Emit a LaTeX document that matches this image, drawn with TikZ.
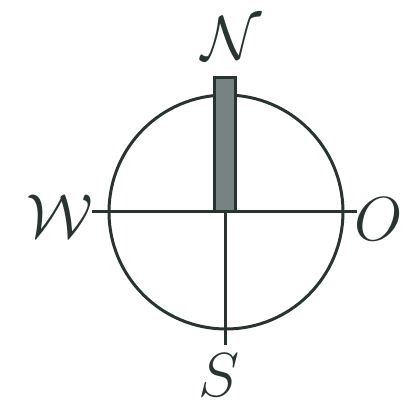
\documentclass[tikz,border=0pt]{standalone}
\usepackage{amsmath,amssymb}
\usepackage{xcolor}
\usepackage{tikz}
\usetikzlibrary{positioning,calc}
\definecolor{inkdark}{RGB}{40,52,48}
\definecolor{barfill}{RGB}{118,130,132}
\tikzset{
  ink/.style={draw=inkdark, line width=1.5pt},
  needle/.style={draw=inkdark, line width=1.5pt, fill=barfill},
  dirlbl/.style={inner sep=0pt, text=inkdark, font=\Huge, scale=1.25, transform shape},
}
\begin{document}
\begin{tikzpicture}[x=0.5pt,y=-0.5pt]
    \useasboundingbox (0,0) rectangle (414,405);
    \coordinate (c) at (226,212);
    \coordinate (west) at (92,212);
    \coordinate (east) at (357,212);
    \coordinate (south) at (226,345);
    \draw[ink] (c) circle (58.5pt);
    \draw[ink] (west) -- (east);
    \draw[ink] (c) -- (south);
    \draw[needle] (215,78) rectangle (236,212);
    \node[dirlbl] (n) at (232,38) {$\mathcal{N}$};
    \node[dirlbl] (w) at (60,216) {$\mathcal{W}$};
    \node[dirlbl] (o) at (379,219) {$O$};
    \node[dirlbl] (s) at (219,375) {$S$};
  \end{tikzpicture}
\end{document}
